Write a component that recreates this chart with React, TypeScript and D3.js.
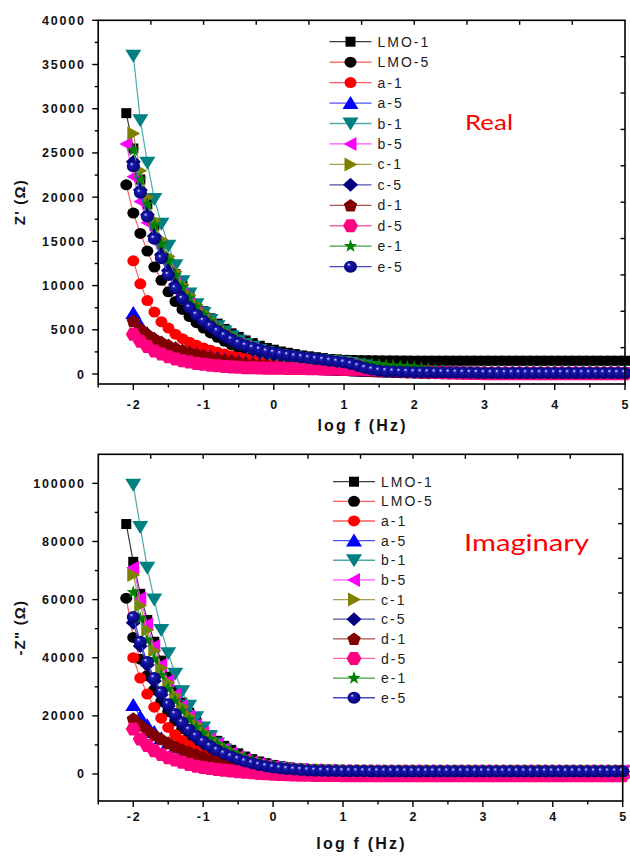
import React from 'react';
import * as d3 from 'd3';

// log10 of frequency (Hz) of the measurement points
const LOG_F = [
  -2.1,
  -2.0, -1.9, -1.8, -1.7, -1.6, -1.5, -1.4, -1.3, -1.2, -1.1,
  -1.0, -0.9, -0.8, -0.7, -0.6, -0.5, -0.4, -0.3, -0.2, -0.1,
  0.0, 0.1, 0.2, 0.3, 0.4, 0.5, 0.6, 0.7, 0.8, 0.9,
  1.0, 1.1, 1.2, 1.3, 1.4, 1.5, 1.6, 1.7, 1.8, 1.9,
  2.0, 2.1, 2.2, 2.3, 2.4, 2.5, 2.6, 2.7, 2.8, 2.9,
  3.0, 3.1, 3.2, 3.3, 3.4, 3.5, 3.6, 3.7, 3.8, 3.9,
  4.0, 4.1, 4.2, 4.3, 4.4, 4.5, 4.6, 4.7, 4.8, 4.9,
  5.0,
];

const NAMES = ['LMO-1', 'LMO-5', 'a-1', 'a-5', 'b-1', 'b-5', 'c-1', 'c-5', 'd-1', 'd-5', 'e-1', 'e-5'];

// ---------- Z' (real part, ohm) ----------
const RE_LMO1 = [29500,
  25500, 22000, 19200, 16800, 14700, 12900, 11300, 10000, 8900, 7900,
  7100, 6300, 5700, 5100, 4600, 4200, 3800, 3500, 3200, 2950,
  2750, 2550, 2400, 2250, 2100, 2000, 1900, 1800, 1700, 1650,
  1600, 1580, 1560, 1550, 1540, 1530, 1520, 1520, 1510, 1510,
  1500, 1500, 1500, 1500, 1500, 1500, 1500, 1500, 1500, 1500,
  1500, 1500, 1500, 1500, 1500, 1500, 1500, 1500, 1500, 1500,
  1500, 1500, 1500, 1500, 1500, 1500, 1500, 1500, 1500, 1500,
  1500];
const RE_LMO5 = [21400,
  18200, 15900, 13900, 12100, 10600, 9300, 8200, 7300, 6500, 5800,
  5200, 4650, 4150, 3700, 3300, 2950, 2650, 2400, 2150, 1950,
  1750, 1600, 1450, 1300, 1200, 1100, 1000, 920, 850, 780,
  720, 670, 620, 580, 540, 500, 470, 440, 410, 380,
  360, 340, 320, 300, 290, 280, 270, 260, 250, 240,
  230, 220, 220, 220, 220, 220, 220, 220, 220, 220,
  220, 220, 220, 220, 220, 220, 220, 220, 220, 220,
  220];
const RE_A1 = [null,
  12800, 10200, 8300, 7000, 5900, 5200, 4500, 4000, 3600, 3250,
  2950, 2700, 2450, 2250, 2050, 1900, 1750, 1600, 1450, 1350,
  1250, 1150, 1050, 980, 900, 840, 780, 720, 670, 620,
  580, 540, 500, 470, 440, 410, 380, 350, 330, 310,
  290, 270, 250, 230, 210, 200, 190, 180, 170, 160,
  150, 150, 150, 150, 150, 150, 150, 150, 150, 150,
  150, 150, 150, 150, 150, 150, 150, 150, 150, 150,
  150];
const RE_A5 = [null,
  6900, 5500, 4600, 4000, 3550, 3200, 2900, 2650, 2450, 2250,
  2100, 1950, 1800, 1650, 1500, 1380, 1270, 1170, 1080, 1000,
  930, 870, 810, 760, 710, 660, 620, 580, 540, 500,
  470, 440, 410, 380, 350, 320, 300, 280, 260, 240,
  220, 200, 190, 180, 170, 160, 150, 140, 130, 120,
  110, 100, 100, 100, 100, 100, 100, 100, 100, 100,
  100, 100, 100, 100, 100, 100, 100, 100, 100, 100,
  100];
const RE_B1 = [null,
  36000, 28700, 23900, 19800, 17000, 14500, 12300, 10500, 9100, 7900,
  6900, 6100, 5400, 4800, 4250, 3800, 3400, 3050, 2750, 2500,
  2300, 2150, 2000, 1900, 1800, 1700, 1620, 1550, 1480, 1420,
  1360, 1250, 1100, 950, 800, 650, 520, 420, 350, 300,
  260, 230, 210, 190, 180, 170, 160, 150, 140, 130,
  120, 110, 110, 110, 110, 110, 110, 110, 110, 110,
  110, 110, 110, 110, 110, 110, 110, 110, 110, 110,
  110];
const RE_B5 = [26000,
  22300, 19500, 17100, 15000, 13200, 11600, 10200, 9000, 7900, 7000,
  6200, 5500, 4850, 4300, 3800, 3400, 3050, 2750, 2500, 2300,
  2100, 1950, 1820, 1700, 1600, 1500, 1420, 1350, 1280, 1220,
  1160, 1050, 900, 750, 600, 480, 380, 320, 280, 250,
  230, 210, 190, 180, 170, 160, 150, 140, 130, 120,
  110, 100, 100, 100, 100, 100, 100, 100, 100, 100,
  100, 100, 100, 100, 100, 100, 100, 100, 100, 100,
  100];
const RE_C1 = [null,
  27200, 23000, 20000, 17400, 15200, 13300, 11600, 10100, 8900, 7800,
  6900, 6100, 5400, 4800, 4300, 3850, 3450, 3100, 2800, 2550,
  2350, 2200, 2050, 1920, 1800, 1700, 1610, 1530, 1460, 1400,
  1340, 1230, 1080, 930, 780, 640, 510, 410, 340, 290,
  250, 220, 200, 180, 170, 160, 150, 140, 130, 120,
  110, 100, 100, 100, 100, 100, 100, 100, 100, 100,
  100, 100, 100, 100, 100, 100, 100, 100, 100, 100,
  100];
const RE_C5 = [null,
  24000, 20800, 18000, 15600, 13500, 11700, 10100, 8800, 7700, 6800,
  6000, 5350, 4750, 4250, 3800, 3400, 3050, 2750, 2500, 2300,
  2150, 2000, 1880, 1770, 1670, 1580, 1500, 1430, 1370, 1310,
  1260, 1150, 1000, 850, 700, 560, 440, 350, 290, 250,
  220, 200, 180, 170, 160, 150, 140, 130, 120, 110,
  100, 90, 90, 90, 90, 90, 90, 90, 90, 90,
  90, 90, 90, 90, 90, 90, 90, 90, 90, 90,
  90];
const RE_D1 = [null,
  6000, 5100, 4500, 4000, 3600, 3250, 2950, 2700, 2450, 2250,
  2050, 1880, 1720, 1580, 1450, 1330, 1220, 1120, 1030, 950,
  880, 820, 770, 720, 680, 640, 600, 570, 540, 510,
  480, 450, 420, 390, 360, 330, 300, 280, 260, 240,
  220, 200, 180, 160, 150, 140, 130, 120, 110, 100,
  90, 80, 80, 80, 80, 80, 80, 80, 80, 80,
  80, 80, 80, 80, 80, 80, 80, 80, 80, 80,
  80];
const RE_D5 = [null,
  4500, 3700, 3100, 2600, 2250, 1950, 1700, 1500, 1350, 1200,
  1100, 1000, 920, 850, 800, 760, 720, 700, 680, 660,
  650, 640, 630, 620, 610, 600, 590, 580, 570, 560,
  550, 540, 530, 510, 490, 470, 440, 410, 380, 340,
  300, 260, 220, 180, 150, 120, 100, 80, 60, 50,
  40, 30, 30, 30, 30, 30, 30, 30, 30, 30,
  30, 30, 30, 30, 30, 30, 30, 30, 30, 30,
  30];
const RE_E1 = [null,
  25300, 22000, 19200, 16800, 14700, 12800, 11200, 9800, 8600, 7600,
  6700, 5950, 5300, 4700, 4200, 3750, 3350, 3000, 2700, 2450,
  2250, 2100, 1980, 1870, 1770, 1680, 1600, 1530, 1470, 1410,
  1360, 1300, 1240, 1180, 1120, 1060, 1000, 940, 880, 820,
  760, 680, 580, 480, 380, 300, 240, 200, 170, 150,
  130, 110, 110, 110, 110, 110, 110, 110, 110, 110,
  110, 110, 110, 110, 110, 110, 110, 110, 110, 110,
  110];
const RE_E5 = [null,
  23500, 20500, 17800, 15300, 13100, 11200, 9700, 8500, 7500, 6700,
  6000, 5400, 4850, 4350, 3900, 3500, 3200, 2950, 2750, 2550,
  2400, 2250, 2120, 2000, 1900, 1800, 1700, 1600, 1500, 1400,
  1300, 1120, 900, 680, 500, 380, 320, 280, 250, 230,
  210, 200, 190, 180, 170, 160, 150, 140, 130, 120,
  110, 100, 100, 100, 100, 100, 100, 100, 100, 100,
  100, 100, 100, 100, 100, 100, 100, 100, 100, 100,
  100];

// ---------- -Z'' (imaginary part, ohm) ----------
const IM_LMO1 = [86000,
  73000, 62000, 53000, 45500, 39000, 33500, 28700, 24600, 21100, 18100,
  15500, 13300, 11400, 9700, 8300, 7100, 6000, 5100, 4300, 3700,
  3100, 2700, 2350, 2050, 1800, 1600, 1450, 1320, 1220, 1140,
  1080, 1040, 1000, 980, 960, 950, 940, 930, 920, 910,
  900, 900, 900, 900, 900, 900, 900, 900, 900, 900,
  900, 900, 900, 900, 900, 900, 900, 900, 900, 900,
  900, 900, 900, 900, 900, 900, 900, 900, 900, 900,
  900];
const IM_LMO5 = [60500,
  47000, 39500, 33800, 29000, 25000, 21500, 18300, 15600, 13300, 11400,
  9800, 8400, 7200, 6200, 5300, 4600, 3950, 3400, 2950, 2550,
  2200, 1900, 1650, 1450, 1300, 1170, 1070, 990, 930, 880,
  840, 810, 790, 770, 760, 750, 740, 730, 720, 710,
  700, 700, 700, 700, 700, 700, 700, 700, 700, 700,
  700, 700, 700, 700, 700, 700, 700, 700, 700, 700,
  700, 700, 700, 700, 700, 700, 700, 700, 700, 700,
  700];
const IM_A1 = [null,
  40000, 33000, 27500, 23000, 19200, 16000, 13500, 11500, 9800, 8000,
  6500, 5500, 4700, 4000, 3400, 2900, 2500, 2150, 1850, 1600,
  1400, 1250, 1120, 1000, 900, 820, 760, 710, 670, 640,
  610, 590, 570, 560, 550, 540, 530, 520, 510, 500,
  500, 500, 500, 500, 500, 500, 500, 500, 500, 500,
  500, 500, 500, 500, 500, 500, 500, 500, 500, 500,
  500, 500, 500, 500, 500, 500, 500, 500, 500, 500,
  500];
const IM_A5 = [null,
  23700, 19700, 16800, 14400, 12300, 10600, 9100, 7900, 6900, 6000,
  5300, 4700, 4100, 3600, 3150, 2750, 2400, 2100, 1850, 1600,
  1400, 1250, 1120, 1000, 900, 820, 760, 710, 670, 640,
  610, 590, 570, 560, 550, 540, 530, 520, 510, 500,
  500, 500, 500, 500, 500, 500, 500, 500, 500, 500,
  500, 500, 500, 500, 500, 500, 500, 500, 500, 500,
  500, 500, 500, 500, 500, 500, 500, 500, 500, 500,
  500];
const IM_B1 = [null,
  99500, 85000, 71000, 60000, 49500, 41500, 34500, 28500, 23500, 19500,
  16000, 13000, 10500, 8400, 6700, 5400, 4400, 3700, 3100, 2700,
  2400, 2100, 1850, 1650, 1500, 1380, 1280, 1200, 1140, 1090,
  1050, 1020, 1000, 990, 980, 970, 960, 950, 950, 950,
  950, 950, 950, 950, 950, 950, 950, 950, 950, 950,
  950, 950, 950, 950, 950, 950, 950, 950, 950, 950,
  950, 950, 950, 950, 950, 950, 950, 950, 950, 950,
  950];
const IM_B5 = [null,
  71000, 60500, 51500, 44000, 37500, 32000, 27300, 23300, 19800, 16800,
  14200, 12000, 10100, 8500, 7100, 5900, 4900, 4100, 3450, 2900,
  2450, 2100, 1850, 1650, 1500, 1380, 1290, 1220, 1160, 1120,
  1090, 1070, 1050, 1040, 1030, 1020, 1010, 1000, 1000, 1000,
  1000, 1000, 1000, 1000, 1000, 1000, 1000, 1000, 1000, 1000,
  1000, 1000, 1000, 1000, 1000, 1000, 1000, 1000, 1000, 1000,
  1000, 1000, 1000, 1000, 1000, 1000, 1000, 1000, 1000, 1000,
  1000];
const IM_C1 = [null,
  68500, 58000, 49500, 42500, 36500, 31500, 27000, 23200, 19900, 17000,
  14600, 12500, 10600, 9000, 7600, 6400, 5300, 4400, 3700, 3100,
  2600, 2250, 1950, 1720, 1550, 1420, 1320, 1240, 1180, 1130,
  1090, 1060, 1040, 1020, 1010, 1000, 990, 980, 970, 960,
  950, 950, 950, 950, 950, 950, 950, 950, 950, 950,
  950, 950, 950, 950, 950, 950, 950, 950, 950, 950,
  950, 950, 950, 950, 950, 950, 950, 950, 950, 950,
  950];
const IM_C5 = [null,
  52000, 44000, 37500, 32000, 27300, 23300, 19900, 17000, 14500, 12400,
  10600, 9100, 7800, 6700, 5700, 4850, 4100, 3500, 3000, 2550,
  2200, 1900, 1650, 1470, 1330, 1220, 1140, 1080, 1030, 990,
  960, 940, 920, 910, 900, 890, 880, 870, 860, 850,
  850, 850, 850, 850, 850, 850, 850, 850, 850, 850,
  850, 850, 850, 850, 850, 850, 850, 850, 850, 850,
  850, 850, 850, 850, 850, 850, 850, 850, 850, 850,
  850];
const IM_D1 = [null,
  19000, 16800, 15000, 13400, 12000, 10700, 9500, 8400, 7500, 6700,
  6000, 5300, 4700, 4150, 3650, 3200, 2800, 2450, 2150, 1900,
  1650, 1450, 1280, 1130, 1000, 900, 820, 750, 690, 640,
  600, 560, 530, 500, 480, 460, 440, 420, 400, 380,
  360, 350, 350, 350, 350, 350, 350, 350, 350, 350,
  350, 350, 350, 350, 350, 350, 350, 350, 350, 350,
  350, 350, 350, 350, 350, 350, 350, 350, 350, 350,
  350];
const IM_D5 = [null,
  15500, 12000, 9800, 8000, 6700, 5600, 4800, 4000, 3300, 2700,
  2200, 1850, 1550, 1250, 1000, 800, 600, 400, 200, 50,
  -100, -200, -300, -380, -440, -480, -510, -530, -550, -560,
  -570, -580, -580, -580, -580, -580, -580, -580, -580, -580,
  -580, -580, -580, -580, -580, -580, -580, -580, -580, -580,
  -580, -580, -580, -580, -580, -580, -580, -580, -580, -580,
  -580, -580, -580, -580, -580, -580, -580, -580, -580, -580,
  -580];
const IM_E1 = [null,
  62500, 53500, 46000, 39500, 34000, 29300, 25200, 21700, 18700, 16100,
  13900, 12000, 10300, 8800, 7500, 6300, 5300, 4450, 3750, 3150,
  2650, 2280, 1980, 1750, 1570, 1430, 1330, 1250, 1190, 1140,
  1100, 1070, 1050, 1030, 1020, 1010, 1000, 1000, 1000, 1000,
  1000, 1000, 1000, 1000, 1000, 1000, 1000, 1000, 1000, 1000,
  1000, 1000, 1000, 1000, 1000, 1000, 1000, 1000, 1000, 1000,
  1000, 1000, 1000, 1000, 1000, 1000, 1000, 1000, 1000, 1000,
  1000];
const IM_E5 = [null,
  54000, 45500, 38500, 33000, 28200, 24000, 20600, 17700, 15200, 13100,
  11200, 9600, 8200, 7000, 6000, 5100, 4300, 3650, 3100, 2650,
  2250, 1950, 1700, 1500, 1350, 1230, 1140, 1070, 1020, 980,
  950, 930, 910, 900, 890, 880, 870, 860, 850, 850,
  850, 850, 850, 850, 850, 850, 850, 850, 850, 850,
  850, 850, 850, 850, 850, 850, 850, 850, 850, 850,
  850, 850, 850, 850, 850, 850, 850, 850, 850, 850,
  850];

const REAL_SERIES = [RE_LMO1, RE_LMO5, RE_A1, RE_A5, RE_B1, RE_B5, RE_C1, RE_C5, RE_D1, RE_D5, RE_E1, RE_E5];
const IMAG_SERIES = [IM_LMO1, IM_LMO5, IM_A1, IM_A5, IM_B1, IM_B5, IM_C1, IM_C5, IM_D1, IM_D5, IM_E1, IM_E5];

const X_TICKS = [-2, -1, 0, 1, 2, 3, 4, 5];
const X_MINOR = [-2.5, -1.5, -0.5, 0.5, 1.5, 2.5, 3.5, 4.5];
const REAL_Y_TICKS = [0, 5000, 10000, 15000, 20000, 25000, 30000, 35000, 40000];
const REAL_Y_MINOR = [2500, 7500, 12500, 17500, 22500, 27500, 32500, 37500];
const IMAG_Y_TICKS = [0, 20000, 40000, 60000, 80000, 100000];
const IMAG_Y_MINOR = [10000, 30000, 50000, 70000, 90000];

// ---------- styles ----------
const STYLES = [
  { shape: 'square', fill: '#000000', stroke: '#3c3c3c' },
  { shape: 'circle', fill: '#000000', stroke: '#ff5a5a' },
  { shape: 'circle', fill: '#ff0000', stroke: '#ff5a5a' },
  { shape: 'triUp', fill: '#0000ff', stroke: '#5050ff' },
  { shape: 'triDown', fill: '#008080', stroke: '#50aaaa' },
  { shape: 'triLeft', fill: '#ff00ff', stroke: '#ff50ff' },
  { shape: 'triRight', fill: '#808000', stroke: '#a0a050' },
  { shape: 'diamond', fill: '#000080', stroke: '#5050a8' },
  { shape: 'pentagon', fill: '#800000', stroke: '#a85050' },
  { shape: 'hexagon', fill: '#ff0080', stroke: '#ff60a8' },
  { shape: 'star', fill: '#008000', stroke: '#40a040' },
  { shape: 'sphere', fill: '#00008b', stroke: '#4848c0' },
];

const starPts: number[][] = [];
for (let k = 0; k < 10; k++) {
  const r = k % 2 === 0 ? 7 : 2.8;
  const a = -Math.PI / 2 + (k * Math.PI) / 5;
  starPts.push([r * Math.cos(a), r * Math.sin(a)]);
}
const pentPts: number[][] = [];
for (let k = 0; k < 5; k++) {
  const a = -Math.PI / 2 + (k * 2 * Math.PI) / 5;
  pentPts.push([7 * Math.cos(a), 7 * Math.sin(a) + 0.6]);
}
const SHAPES: Record<string, number[][]> = {
  square: [[-5, -5], [5, -5], [5, 5], [-5, 5]],
  triUp: [[0, -7], [8, 6], [-8, 6]],
  triDown: [[0, 7], [8, -6], [-8, -6]],
  triLeft: [[-7, 0], [6, -7], [6, 7]],
  triRight: [[7, 0], [-6, -7], [-6, 7]],
  diamond: [[0, -7], [7.5, 0], [0, 7], [-7.5, 0]],
  pentagon: pentPts,
  hexagon: [[7.5, 0], [3.75, 6.5], [-3.75, 6.5], [-7.5, 0], [-3.75, -6.5], [3.75, -6.5]],
  star: starPts,
};

function Marker({ shape, fill, x, y }: { shape: string; fill: string; x: number; y: number }) {
  if (shape === 'circle') return <ellipse cx={x} cy={y} rx={6} ry={5.5} fill={fill} />;
  if (shape === 'sphere') return <ellipse cx={x} cy={y} rx={6.5} ry={6} fill="url(#sphereGrad)" />;
  const pts = SHAPES[shape];
  return <polygon points={pts.map((p) => `${(x + p[0]).toFixed(2)},${(y + p[1]).toFixed(2)}`).join(' ')} fill={fill} />;
}

const FONT = '"Liberation Sans", Arial, sans-serif';

type PanelProps = {
  series: (number | null)[][];
  xLeft: number; xRight: number;
  yTop: number; yBottom: number;
  yDomain: [number, number];
  yTicks: number[]; yMinor: number[];
  yTitle: string;
  legendX: number; legendY0: number; legendStep: number;
  annot: string; annotX: number; annotY: number; annotSize: number; annotLen: number;
  xTitleY: number; xLabelY: number;
};

function Panel(p: PanelProps) {
  const x = d3.scaleLinear().domain([-2.5, 5]).range([p.xLeft, p.xRight]);
  const y = d3.scaleLinear().domain(p.yDomain).range([p.yBottom, p.yTop]);
  const line = d3
    .line<[number, number | null]>()
    .defined((d) => d[1] != null)
    .x((d) => x(d[0]))
    .y((d) => y(d[1] as number));
  const w = p.xRight - p.xLeft;
  const h = p.yBottom - p.yTop;
  const divs = d3.range(1, 10).map((k) => k / 10);
  const lx1 = p.legendX - 21, lx2 = p.legendX + 21;

  return (
    <g>
      {p.series.map((vals, si) => {
        const st = STYLES[si];
        const pts: [number, number | null][] = LOG_F.map((f, i) => [f, vals[i] ?? null]);
        return (
          <g key={si}>
            <path d={line(pts) || ''} fill="none" stroke={st.stroke} strokeWidth={1.2} />
            {pts.filter((d) => d[1] != null).map((d, i) => (
              <Marker key={i} shape={st.shape} fill={st.fill} x={x(d[0])} y={y(d[1] as number)} />
            ))}
          </g>
        );
      })}

      <rect x={p.xLeft} y={p.yTop} width={w} height={h} fill="none" stroke="#000" strokeWidth={1.6} />
      {divs.map((f, i) => (
        <line key={'tt' + i} x1={p.xLeft + f * w} x2={p.xLeft + f * w} y1={p.yTop} y2={p.yTop + 4.5} stroke="#000" strokeWidth={1.4} />
      ))}
      {divs.map((f, i) => (
        <line key={'rt' + i} x1={p.xRight} x2={p.xRight - 4.5} y1={p.yTop + f * h} y2={p.yTop + f * h} stroke="#000" strokeWidth={1.4} />
      ))}
      {X_TICKS.map((t) => (
        <g key={'x' + t}>
          <line x1={x(t)} x2={x(t)} y1={p.yBottom} y2={p.yBottom + 6} stroke="#000" strokeWidth={1.4} />
          <text x={x(t) + 0.9} y={p.xLabelY} textAnchor="middle" fontFamily={FONT} fontWeight="bold" fontSize={12.5} letterSpacing={1.8} fill="#111">
            {t}
          </text>
        </g>
      ))}
      {X_MINOR.map((t) => (
        <line key={'xm' + t} x1={x(t)} x2={x(t)} y1={p.yBottom} y2={p.yBottom + 3.5} stroke="#000" strokeWidth={1.4} />
      ))}
      {p.yTicks.map((t) => (
        <g key={'y' + t}>
          <line x1={p.xLeft - 6} x2={p.xLeft} y1={y(t)} y2={y(t)} stroke="#000" strokeWidth={1.4} />
          <text x={p.xLeft - 12.5} y={y(t)} dy="0.36em" textAnchor="end" fontFamily={FONT} fontWeight="bold" fontSize={12.5} letterSpacing={1.8} fill="#111">
            {t}
          </text>
        </g>
      ))}
      {p.yMinor.map((t) => (
        <line key={'ym' + t} x1={p.xLeft - 3.5} x2={p.xLeft} y1={y(t)} y2={y(t)} stroke="#000" strokeWidth={1.4} />
      ))}

      <text x={(p.xLeft + p.xRight) / 2 + 1} y={p.xTitleY} textAnchor="middle" fontFamily={FONT} fontWeight="bold" fontSize={16} letterSpacing={2.2} fill="#111">
        log f (Hz)
      </text>
      <text transform={`translate(20,${(p.yTop + p.yBottom) / 2}) rotate(-90)`} dy="0.35em" textAnchor="middle" fontFamily={FONT} fontWeight="bold" fontSize={15} letterSpacing={1.2} fill="#111">
        {p.yTitle}
      </text>

      <text x={p.annotX} y={p.annotY} fontFamily='Lato, "Open Sans", sans-serif' fontSize={p.annotSize} fill="#ff0000" textLength={p.annotLen} lengthAdjust="spacingAndGlyphs">
        {p.annot}
      </text>

      {NAMES.map((n, i) => {
        const st = STYLES[i];
        const ly = p.legendY0 + i * p.legendStep;
        return (
          <g key={'lg' + i}>
            <line x1={lx1} x2={lx2} y1={ly} y2={ly} stroke={st.stroke} strokeWidth={1.3} />
            <Marker shape={st.shape} fill={st.fill} x={p.legendX} y={ly} />
            <text x={lx2 + 6} y={ly} dy="0.36em" fontFamily={FONT} fontSize={14} letterSpacing={2} fill="#222">
              {n}
            </text>
          </g>
        );
      })}
    </g>
  );
}

export default function App() {
  return (
    <svg width={630} height={856} viewBox="0 0 630 856" style={{ position: 'absolute', left: 0, top: 0, background: '#fff' }}>
      <defs>
        <radialGradient id="sphereGrad" cx="50%" cy="50%" r="55%" fx="34%" fy="30%">
          <stop offset="0%" stopColor="#ffffff" />
          <stop offset="8%" stopColor="#a0a0ee" />
          <stop offset="26%" stopColor="#1a1ab0" />
          <stop offset="100%" stopColor="#000070" />
        </radialGradient>
      </defs>
      <rect x={0} y={0} width={630} height={856} fill="#fff" />
      <Panel
        series={REAL_SERIES}
        xLeft={98.2} xRight={625}
        yTop={20.3} yBottom={384}
        yDomain={[-1130, 40000]}
        yTicks={REAL_Y_TICKS} yMinor={REAL_Y_MINOR}
        yTitle={"Z' (\u03A9)"}
        legendX={350.5} legendY0={41.7} legendStep={20.45}
        annot="Real" annotX={465} annotY={130} annotSize={22} annotLen={48}
        xTitleY={431} xLabelY={408.5}
      />
      <Panel
        series={IMAG_SERIES}
        xLeft={98.3} xRight={622.7}
        yTop={454.3} yBottom={801}
        yDomain={[-9300, 110000]}
        yTicks={IMAG_Y_TICKS} yMinor={IMAG_Y_MINOR}
        yTitle={'-Z" (\u03A9)'}
        legendX={354} legendY0={481.7} legendStep={19.64}
        annot="Imaginary" annotX={464} annotY={551} annotSize={23} annotLen={125}
        xTitleY={849} xLabelY={821}
      />
    </svg>
  );
}
